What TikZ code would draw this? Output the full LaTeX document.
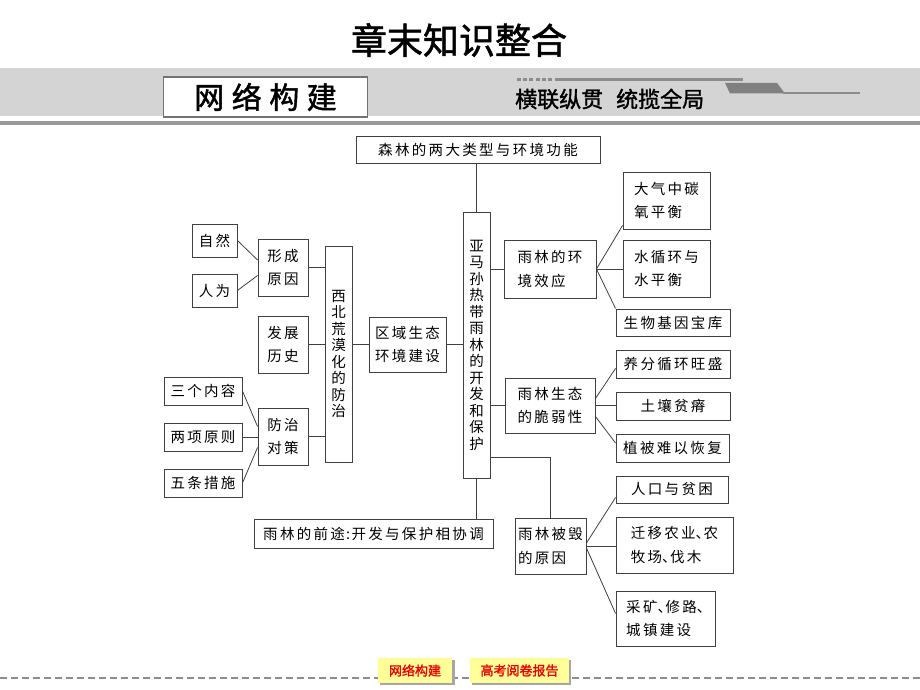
\documentclass[tikz,border=0pt]{standalone}
\usepackage{fontspec}
\newfontfamily\cjk[LetterSpace=16]{Noto Sans CJK SC}
\newfontfamily\cjkplain{Noto Sans CJK SC}
\newfontfamily\cjkb[FakeBold=1.5]{Noto Sans CJK SC}
\newfontfamily\cjkbs[FakeBold=1.5,LetterSpace=25]{Noto Sans CJK SC}
\newcommand\mydun{\makebox[0.55em][l]{、}}
\usetikzlibrary{calc}
\definecolor{btn}{RGB}{255,255,153}
\definecolor{btnred}{RGB}{230,0,0}
\begin{document}
\begin{tikzpicture}[x=1pt,y=-1pt,
  bx/.style={draw=black!75, line width=0.9pt, fill=white, inner sep=0pt, align=center,
    font=\cjk\fontsize{14.5}{23.5}\selectfont},
  bl/.style={bx, align=left},
  vt/.style={bx, font=\cjk\fontsize{14.5}{16.5}\selectfont},
  ln/.style={draw=black!75, line width=0.8pt},
  btnbox/.style={fill=btn, inner sep=0pt, minimum height=25, text=btnred,
    font=\cjkb\fontsize{13}{13}\selectfont}]
\useasboundingbox (0,0) rectangle (920,690);
% title
\node[font=\cjkb\fontsize{36}{36}\selectfont] (title) at (459,40) {章末知识整合};
% banner
\fill[black!17] (0,68) rectangle (920,116);
\fill[black!40] (0,121) rectangle (920,125);
\node[draw=black!55, line width=1.2pt, fill=white, minimum width=204, minimum height=40,
  inner sep=0pt, font=\cjkbs\fontsize{30}{30}\selectfont] (wl) at (265.5,97) {网络构建};
\node[font=\cjkb\fontsize{22}{22}\selectfont, anchor=west, inner sep=0pt] (tag) at (515,99) {横联纵贯\hspace{13pt}统揽全局};
\foreach \i in {0,...,5} \fill[black!45] (517+\i*6.2,78) rectangle ++(4,3);
\fill[black!45] (555,78.5) rectangle (743,81);
\fill[black!50] (725,83) -- (777,83) -- (785,93.5) -- (730,93.5) -- cycle;
\fill[black!45] (783,92) rectangle (860,94.5);
% bottom
\draw[black!45, line width=1.2pt, dash pattern=on 7pt off 4pt] (0,678) -- (920,678);
\fill[black!35] (380,660) rectangle (455,685);
\node[btnbox, minimum width=74] (b1) at (415,670.5) {网络构建};
\fill[black!35] (472,660) rectangle (571,685);
\node[btnbox, minimum width=99] (b2) at (519.5,670.5) {高考阅卷报告};
% diagram boxes
\node[bx, minimum width=244, minimum height=27] (top) at (478,149.5) {森林的两大类型与环境功能};
\node[vt, minimum width=27, minimum height=266] (amz) at (476.5,345) {亚\\马\\孙\\热\\带\\雨\\林\\的\\开\\发\\和\\保\\护};
\node[bx, minimum width=45, minimum height=33] (ziran) at (214.5,240.5) {自然};
\node[bx, minimum width=45, minimum height=33] (renwei) at (214.5,290.5) {人为};
\node[bx, minimum width=50, minimum height=57] (xingcheng) at (283,267.5) {形成\\原因};
\node[vt, minimum width=27, minimum height=216] (xibei) at (338.5,354) {西\\北\\荒\\漠\\化\\的\\防\\治};
\node[bx, minimum width=50, minimum height=57] (fazhan) at (283,344.5) {发展\\历史};
\node[bx, minimum width=77, minimum height=55] (quyu) at (407.5,344.5) {区域生态\\环境建设};
\node[bx, minimum width=78, minimum height=28] (sange) at (203,391) {三个内容};
\node[bx, minimum width=78, minimum height=28] (liangxiang) at (203,437) {两项原则};
\node[bx, minimum width=78, minimum height=28] (wutiao) at (203,483) {五条措施};
\node[bx, minimum width=50, minimum height=57] (fangzhi) at (283,436.5) {防治\\对策};
\node[bx, minimum width=239, minimum height=29] (qiantu) at (373.5,533.5) {雨林的前途\makebox[0.45em][c]{:}开发与保护相协调};
\node[bl, minimum width=92, minimum height=58] (xiaoying) at (550,269) {雨林的环\\境效应};
\node[bl, minimum width=87, minimum height=57] (daqi) at (666.5,200.5) {大气中碳\\氧平衡};
\node[bl, minimum width=87, minimum height=57] (shuixun) at (666.5,268.5) {水循环与\\水平衡};
\node[bx, minimum width=114, minimum height=27] (shengwu) at (673,322.5) {生物基因宝库};
\node[bx, minimum width=90, minimum height=55] (cuiruo) at (550,405.5) {雨林生态\\的脆弱性};
\node[bx, minimum width=114, minimum height=28] (yangfen) at (673,364) {养分循环旺盛};
\node[bx, minimum width=114, minimum height=28] (turang) at (673,406) {土壤贫瘠};
\node[bx, minimum width=113, minimum height=28] (zhibei) at (672.5,448) {植被难以恢复};
\node[bl, minimum width=71, minimum height=56] (beihui) at (550.5,546) {雨林被毁\\的原因};
\node[bx, minimum width=112, minimum height=27] (renkou) at (672,489.5) {人口与贫困};
\node[bl, minimum width=117, minimum height=56] (qianyi) at (674.5,545) {迁移农业\mydun 农\\牧场\mydun 伐木};
\node[bl, minimum width=99, minimum height=55] (caikuang) at (665.5,618.5) {采矿\mydun 修路\mydun\\城镇建设};
% connectors
\draw[ln] (amz.north |- top.south) -- (amz.north);
\draw[ln] (ziran.east) -- ($(xingcheng.west)+(0,-7.5)$);
\draw[ln] (renwei.east) -- ($(xingcheng.west)+(0,8)$);
\draw[ln] (xingcheng.east) -- (xingcheng.east -| xibei.west);
\draw[ln] (fazhan.east) -- (fazhan.east -| xibei.west);
\draw[ln] (fangzhi.east) -- (fangzhi.east -| xibei.west);
\draw[ln] (sange.east) -- ($(fangzhi.west)+(0,-10)$);
\draw[ln] (liangxiang.east) -- (liangxiang.east -| fangzhi.west);
\draw[ln] (wutiao.east) -- ($(fangzhi.west)+(0,11)$);
\draw[ln] (quyu.west -| xibei.east) -- (quyu.west);
\draw[ln] (quyu.east) -- (quyu.east -| amz.west);
\draw[ln] (amz.south) -- (amz.south |- qiantu.north);
\draw[ln] ($(amz.east)+(0,112)$) -| (beihui.north);
\draw[ln] (xiaoying.west -| amz.east) -- (xiaoying.west);
\draw[ln] (cuiruo.west -| amz.east) -- (cuiruo.west);
\draw[ln] (xiaoying.east) -- ($(daqi.south west)+(0,-4)$);
\draw[ln] (xiaoying.east) -- (xiaoying.east -| shuixun.west);
\draw[ln] (xiaoying.east) -- (shengwu.north west);
\draw[ln] ($(cuiruo.east)+(0,-7)$) -- ($(yangfen.south west)+(0,-10)$);
\draw[ln] (cuiruo.east) -- (cuiruo.east -| turang.west);
\draw[ln] ($(cuiruo.east)+(0,11)$) -- ($(zhibei.west)+(0,-5)$);
\draw[ln] ($(beihui.east)+(0,-3)$) -- ($(renkou.south west)+(0,-6)$);
\draw[ln] (beihui.east) -- (beihui.east -| qianyi.west);
\draw[ln] ($(beihui.east)+(0,2)$) -- ($(caikuang.west)+(0,-5)$);
\end{tikzpicture}
\end{document}
